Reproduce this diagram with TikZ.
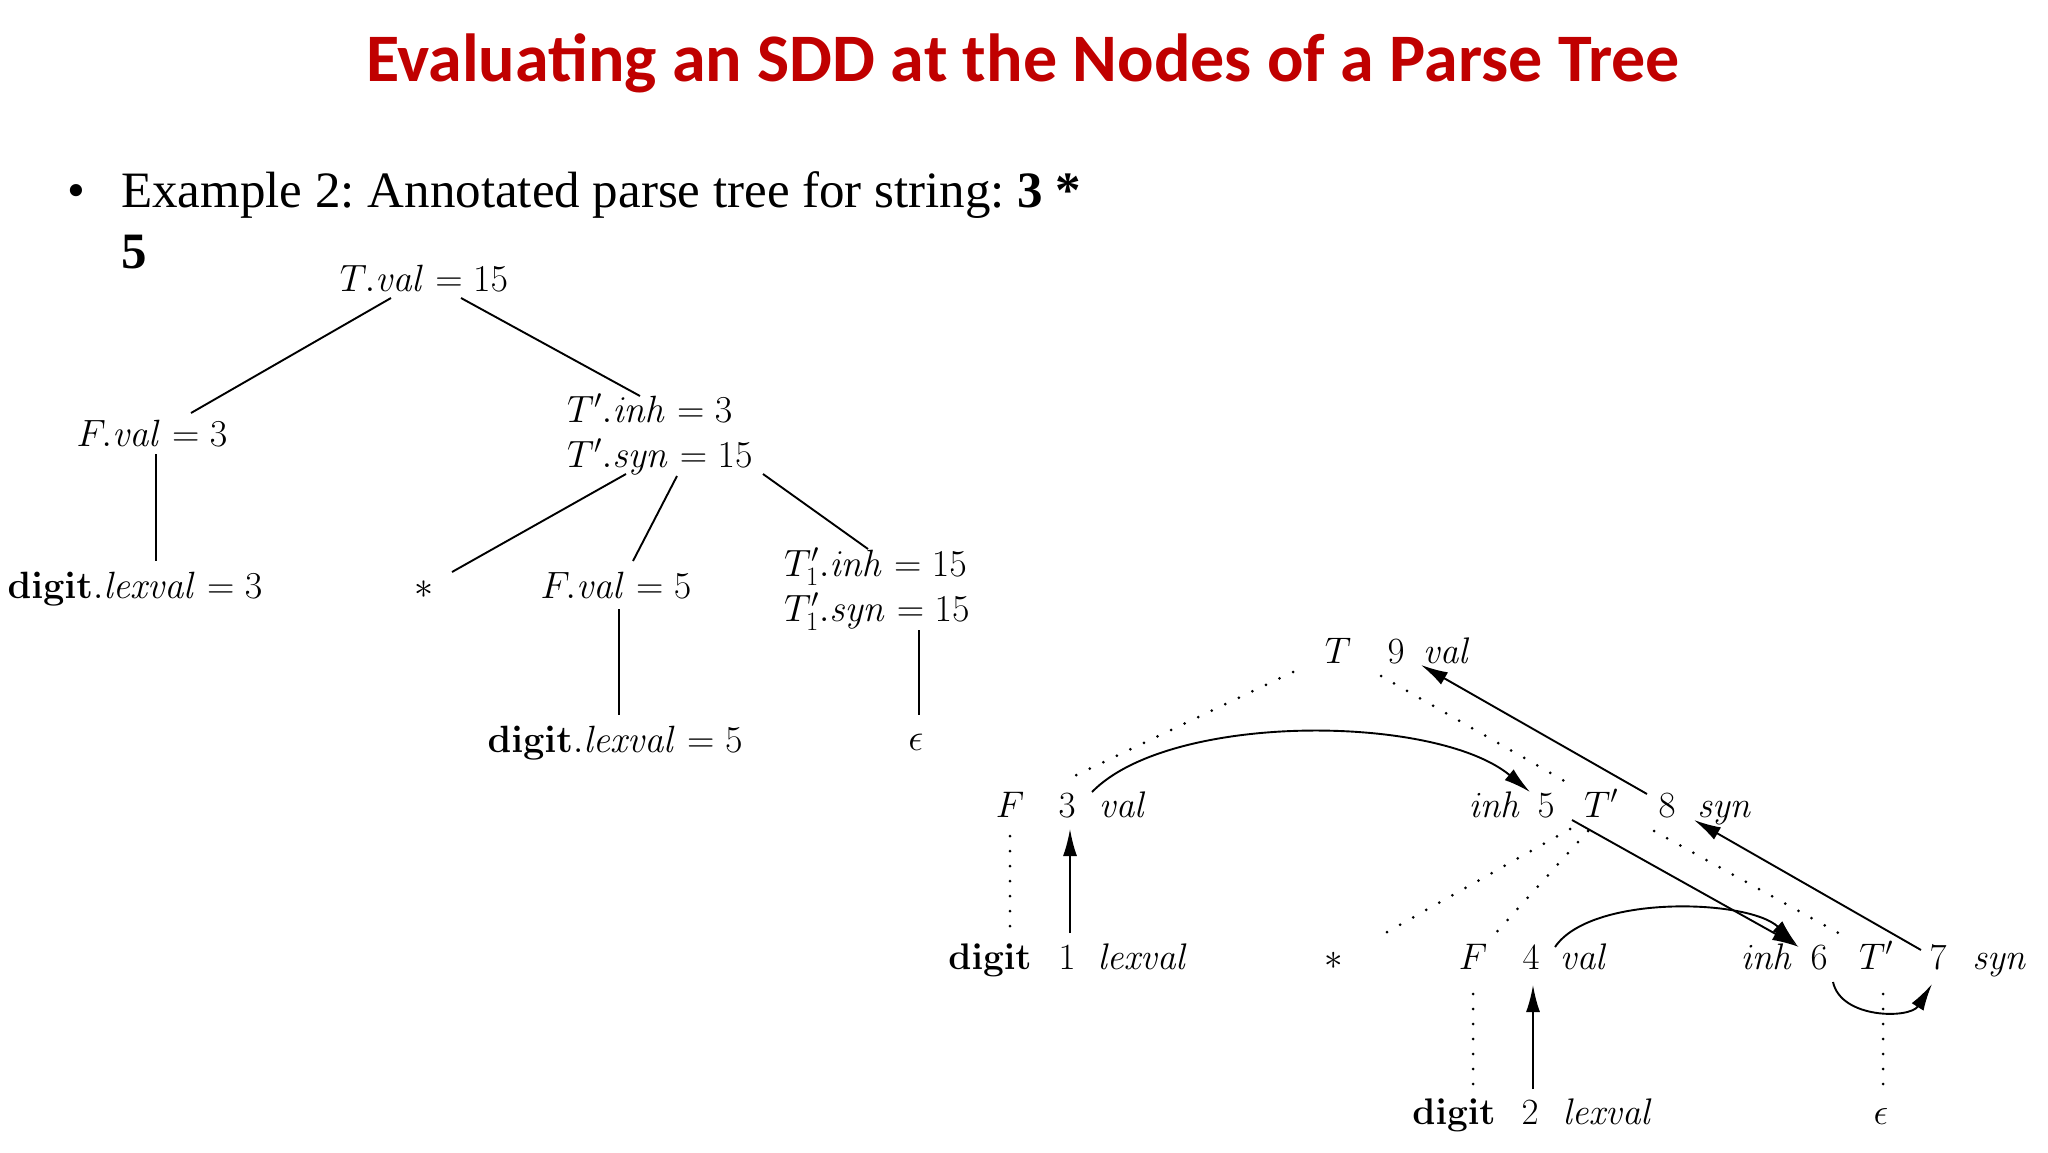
\RequirePackage{fix-cm}
\documentclass[tikz,border=0pt]{standalone}
\usepackage[no-math]{fontspec}
\setmainfont{Liberation Serif}
\newfontfamily\titlefont{Carlito}
\usetikzlibrary{arrows.meta}
\definecolor{titlered}{HTML}{C00000}
\newcommand\twolines[2]{\vtop{\baselineskip=45pt\lineskiplimit=-100pt\hbox{#1}\hbox{#2}}}
\tikzset{
  m/.style={inner sep=0pt, anchor=base, font=\fontsize{38}{45}\selectfont},
  r/.style={inner sep=0pt, anchor=base, font=\fontsize{37}{44}\selectfont},
  tl/.style={line width=1.9pt},
  arr/.style={line width=1.9pt, -{Latex[length=27pt,width=14pt]}},
  dotl/.style={line width=3pt, dash pattern=on 0pt off 15pt, line cap=round},
  body/.style={inner sep=0pt, font=\fontsize{51}{61}\selectfont}
}
\begin{document}
\frenchspacing
\begin{tikzpicture}[x=1pt,y=-1pt]
\useasboundingbox (0,0) rectangle (2048,1152);
% title and bullet
\node[inner sep=0pt, anchor=base, text=titlered, font=\titlefont\bfseries\fontsize{68}{80}\selectfont] (title) at (1023,81) {Evaluating an SDD at the Nodes of a Parse Tree};
\node[body, anchor=base] (bul) at (76,207) {\textbullet};
\node[body, anchor=base west] (l1) at (121,207) {Example 2: Annotated parse tree for string: \textbf{3 *}};
\node[body, anchor=base west] (l2) at (121,268) {\textbf{5}};
% left tree
\node[m] (tval) at (424,291) {$T.\mathit{val} = 15$};
\node[m] (fv3) at (152,446) {$F.\mathit{val} = 3$};
\node[m] (dl3) at (135,598) {$\mathbf{digit}.\mathit{lexval} = 3$};
\node[m,anchor=base west] (tp) at (567,422) {\twolines{$T'.\mathit{inh} = 3$}{$T'.\mathit{syn} = 15$}};
\node[m] (star) at (424,598) {$*$};
\node[m] (fv5) at (616,598) {$F.\mathit{val} = 5$};
\node[m] (dl5) at (615,752) {$\mathbf{digit}.\mathit{lexval} = 5$};
\node[m,anchor=base west] (t1) at (784,576) {\twolines{$T_1'.\mathit{inh} = 15$}{$T_1'.\mathit{syn} = 15$}};
\node[m] (eps) at (916,750) {$\epsilon$};
\draw[tl] ([shift={(-33,7)}]tval.base) -- ([shift={(39,-33)}]fv3.base);
\draw[tl] ([shift={(37,7)}]tval.base) -- ([shift={(73,-26)}]tp.base west);
\draw[tl] ([shift={(4,8)}]fv3.base) -- ([shift={(21,-37)}]dl3.base);
\draw[tl] ([shift={(59,52)}]tp.base west) -- ([shift={(28,-26)}]star.base);
\draw[tl] ([shift={(110,54)}]tp.base west) -- ([shift={(17,-37)}]fv5.base);
\draw[tl] ([shift={(196,52)}]tp.base west) -- ([shift={(84,-27)}]t1.base west);
\draw[tl] ([shift={(3,11)}]fv5.base) -- ([shift={(4,-37)}]dl5.base);
\draw[tl] ([shift={(135,54)}]t1.base west) -- ([shift={(3,-35)}]eps.base);
% right tree: row 1
\node[r] (rT) at (1338,663) {$T$};
\node[r] (r9) at (1396,663) {$9$};
\node[r] (rv9) at (1447,663) {$\mathit{val}$};
% row 2
\node[r] (rF2) at (1010,817) {$F$};
\node[r] (r3) at (1067,817) {$3$};
\node[r] (rv3) at (1123,817) {$\mathit{val}$};
\node[r] (ri5) at (1495,817) {$\mathit{inh}$};
\node[r] (r5) at (1546,817) {$5$};
\node[r] (rTp2) at (1601,817) {$T'$};
\node[r] (r8) at (1667,817) {$8$};
\node[r] (rs8) at (1725,817) {$\mathit{syn}$};
% row 3
\node[r] (rd3) at (990,969) {$\mathbf{digit}$};
\node[r] (r1) at (1067,969) {$1$};
\node[r] (rl1) at (1143,969) {$\mathit{lexval}$};
\node[r] (rstar) at (1334,969) {$*$};
\node[r] (rF3) at (1473,969) {$F$};
\node[r] (r4) at (1531,969) {$4$};
\node[r] (rv4) at (1584,969) {$\mathit{val}$};
\node[r] (ri6) at (1767,969) {$\mathit{inh}$};
\node[r] (r6) at (1819,969) {$6$};
\node[r] (rTp3) at (1876,969) {$T'$};
\node[r] (r7) at (1938,969) {$7$};
\node[r] (rs7) at (2000,969) {$\mathit{syn}$};
% row 4
\node[r] (rd4) at (1454,1124) {$\mathbf{digit}$};
\node[r] (r2) at (1530,1124) {$2$};
\node[r] (rl2) at (1608,1124) {$\mathit{lexval}$};
\node[r] (reps) at (1881,1124) {$\epsilon$};
% dotted tree edges
\draw[dotl] ([shift={(-45,9)}]rT.base) -- ([shift={(3,-39)}]r3.base);
\draw[dotl] ([shift={(43,13)}]rT.base) -- ([shift={(-33,-34)}]rTp2.base);
\draw[dotl] ([shift={(0,19)}]rF2.base) -- ([shift={(20,-36)}]rd3.base);
\draw[dotl] ([shift={(-31,12)}]rTp2.base) -- ([shift={(46,-33)}]rstar.base);
\draw[dotl] ([shift={(-13,14)}]rTp2.base) -- ([shift={(20,-33)}]rF3.base);
\draw[dotl] ([shift={(53,14)}]rTp2.base) -- ([shift={(-32,-33)}]rTp3.base);
\draw[dotl] ([shift={(7,25)}]rTp3.base) -- ([shift={(2,-35)}]reps.base);
\draw[dotl] ([shift={(0,25)}]rF3.base) -- ([shift={(19,-35)}]rd4.base);
% dependency arrows
\draw[arr] ([shift={(-20,-23)}]r8.base) -- ([shift={(25,2)}]r9.base);
\draw[arr] ([shift={(3,-36)}]r1.base) -- ([shift={(3,12)}]r3.base);
\draw[arr] ([shift={(3,-35)}]r2.base) -- ([shift={(2,16)}]r4.base);
\draw[arr] ([shift={(26,3)}]r5.base) -- ([shift={(-20,-22)}]r6.base);
\draw[arr] ([shift={(-17,-19)}]r7.base) -- ([shift={(27,3)}]r8.base);
\draw[arr] ([shift={(25,-25)}]r3.base) .. controls ([shift={(103,-105)}]r3.base) and ([shift={(-110,-103)}]r5.base) .. ([shift={(-16,-25)}]r5.base);
\draw[arr] ([shift={(24,-22)}]r4.base) .. controls ([shift={(60,-75)}]r4.base) and ([shift={(-70,-70)}]r6.base) .. ([shift={(-22,-24)}]r6.base);
\draw[arr] ([shift={(14,13)}]r6.base) .. controls ([shift={(22,50)}]r6.base) and ([shift={(-28,50)}]r7.base) .. ([shift={(-6,15)}]r7.base);
\end{tikzpicture}
\end{document}
